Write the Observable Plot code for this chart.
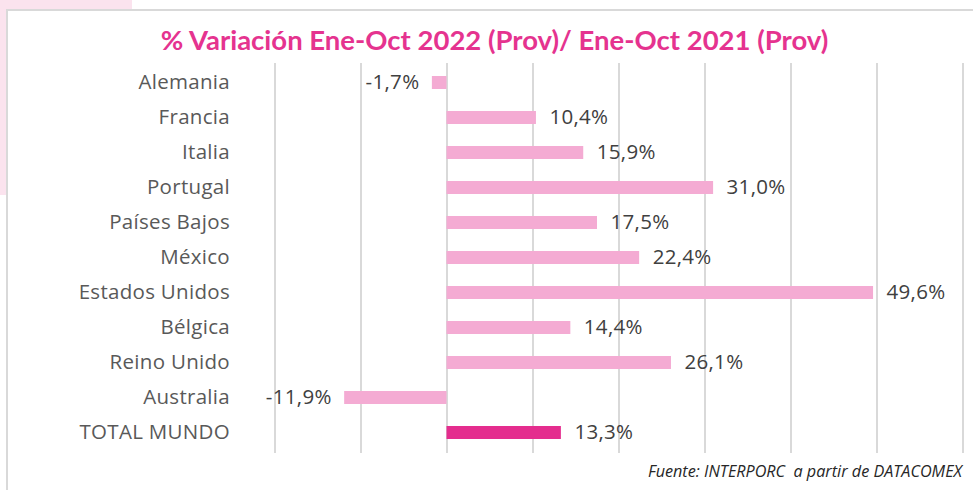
<!DOCTYPE html>
<html>
<head>
<meta charset="utf-8">
<script src="https://cdn.jsdelivr.net/npm/d3@7"></script>
<script src="https://cdn.jsdelivr.net/npm/@observablehq/plot@0.6"></script>
<style>
  html, body { margin: 0; padding: 0; background: #ffffff; }
  #page { position: relative; width: 973px; height: 490px; overflow: hidden; background: #ffffff; }
  #deco { position: absolute; left: 0; top: 0; width: 132px; height: 195px; background: #fbe3ee; }
  #box { position: absolute; left: 6px; top: 9px; width: 1000px; height: 520px; border: 2px solid #d9d9d9; background: #ffffff; box-sizing: border-box; }
  #title { position: absolute; left: 0; top: 23px; width: 989px; text-align: center;
           font-family: Lato, "Open Sans", sans-serif; font-weight: 700; font-size: 27.5px; color: #e5338f; white-space: nowrap; }
  #chart { position: absolute; left: 0; top: 0; }
  #source { position: absolute; right: 11px; top: 460px; font-family: "Open Sans", sans-serif; font-style: italic;
            font-size: 16.2px; color: #262626; white-space: nowrap; }
</style>
</head>
<body>
<div id="page">
  <div id="deco"></div>
  <div id="box"></div>
  <div id="chart"></div>
  <div id="title">% Variación Ene-Oct 2022 (Prov)/ Ene-Oct 2021 (Prov)</div>
  <div id="source">Fuente: INTERPORC&nbsp; a partir de DATACOMEX</div>
</div>
<script>
// Export growth by destination, Jan–Oct 2022 vs Jan–Oct 2021 (provisional), in %
const countries = ["Alemania", "Francia", "Italia", "Portugal", "Países Bajos", "México",
                   "Estados Unidos", "Bélgica", "Reino Unido", "Australia", "TOTAL MUNDO"];
const variation = [-1.7, 10.4, 15.9, 31.0, 17.5, 22.4, 49.6, 14.4, 26.1, -11.9, 13.3];
const gridTicks = [-20, -10, 0, 10, 20, 30, 40, 50, 60];

const rows = countries.map((c, i) => ({country: c, value: variation[i], total: c === "TOTAL MUNDO"}));
const fmt = v => v.toFixed(1).replace(".", ",") + "%";

const chart = Plot.plot({
  width: 973,
  height: 490,
  marginLeft: 274.5,
  marginRight: 10.5,
  marginTop: 63,
  marginBottom: 37,
  style: {background: "transparent", fontFamily: "'Open Sans', sans-serif", color: "#595959", letterSpacing: "0.3px"},
  x: {domain: [-20, 60], axis: null},
  y: {domain: countries, paddingInner: 0.62, paddingOuter: 0.3, label: null},
  marks: [
    // vertical gridlines every 10 points
    Plot.ruleX(gridTicks, {stroke: "#d9d9d9", strokeWidth: 2}),
    Plot.barX(rows, {
      y: "country",
      x1: 0,
      x2: "value",
      fill: d => d.total ? "#e42d8e" : "#f4abd3"
    }),
    // value labels: right of positive bars, left of negative ones
    Plot.text(rows, {
      y: "country",
      x: "value",
      text: d => fmt(d.value),
      textAnchor: "start",
      filter: d => d.value >= 0,
      dx: 13,
      dy: -1,
      fontSize: 20.5,
      fill: "#404040"
    }),
    Plot.text(rows, {
      y: "country",
      x: "value",
      text: d => fmt(d.value),
      textAnchor: "end",
      filter: d => d.value < 0,
      dx: -13,
      dy: -1,
      fontSize: 20.5,
      fill: "#404040"
    }),
    Plot.axisY({tickSize: 0, tickPadding: 45, dy: -1, fontSize: 20.5, fill: "#595959", label: null})
  ]
});
document.getElementById("chart").appendChild(chart);
</script>
</body>
</html>
